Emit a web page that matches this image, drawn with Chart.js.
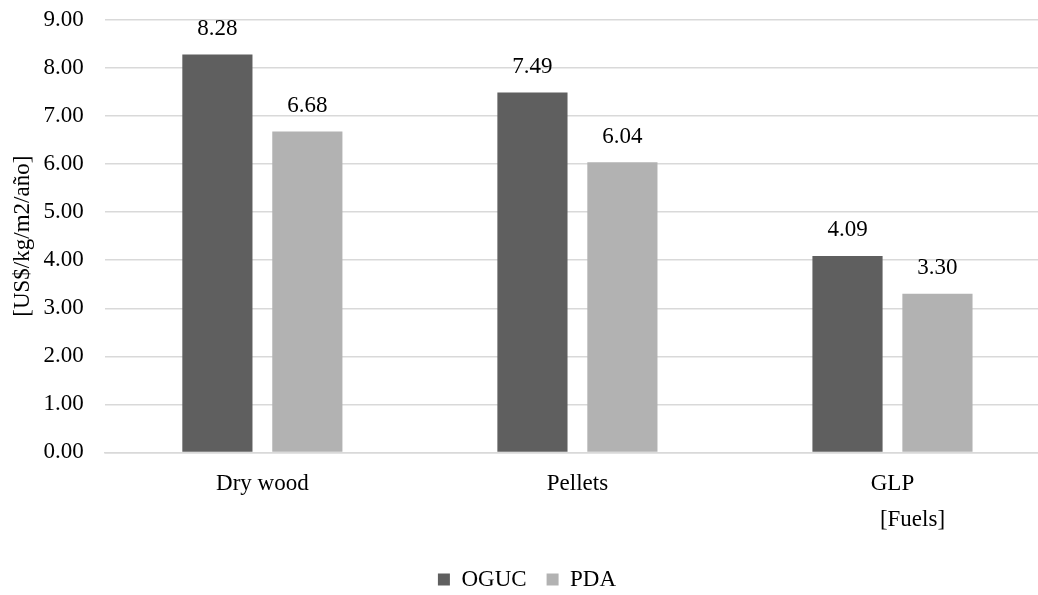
<!DOCTYPE html>
<html>
<head>
<meta charset="utf-8">
<script src="https://cdn.jsdelivr.net/npm/chart.js@4"></script>
<style>
html,body{margin:0;padding:0;background:#fff;overflow:hidden;}
#wrap{width:1050px;height:595px;}
</style>
</head>
<body>
<div id="wrap"><canvas id="c"></canvas></div>
<script>
const categories = ["Dry wood", "Pellets", "GLP"];
const seriesNames = ["OGUC", "PDA"];
const oguc = [8.28, 7.49, 4.09];
const pda = [6.68, 6.04, 3.30];
const yTicks = [0, 1, 2, 3, 4, 5, 6, 7, 8, 9];
const yTitle = "[US$/kg/m2/año]";
const xTitle = "[Fuels]";

const FONT = "'Liberation Serif', 'Times New Roman', serif";
const FS = 23;

const labelPlugin = {
  id: 'labels',
  afterDatasetsDraw(chart) {
    const ctx = chart.ctx;
    ctx.save();
    ctx.font = FS + "px " + FONT;
    ctx.fillStyle = "#000";
    ctx.textAlign = "center";
    ctx.textBaseline = "bottom";
    chart.data.datasets.forEach((ds, i) => {
      chart.getDatasetMeta(i).data.forEach((bar, j) => {
        ctx.fillText(ds.data[j].toFixed(2), bar.x, bar.y - 14);
      });
    });
    // x axis title
    const xs = chart.scales.x;
    const lastX = xs.getPixelForValue(categories.length - 1);
    ctx.textBaseline = "middle";
    ctx.fillText(xTitle, lastX + 20, xs.bottom - 28);
    ctx.restore();
  }
};

new Chart(document.getElementById('c'), {
  type: 'bar',
  data: {
    labels: categories,
    datasets: [
      { label: seriesNames[0], data: oguc, backgroundColor: '#5f5f5f', categoryPercentage: 0.571, barPercentage: 0.78 },
      { label: seriesNames[1], data: pda, backgroundColor: '#b2b2b2', categoryPercentage: 0.571, barPercentage: 0.78 }
    ]
  },
  options: {
    responsive: true,
    maintainAspectRatio: false,
    animation: false,
    devicePixelRatio: 1,
    layout: { padding: { top: 20, right: 0, left: 4, bottom: -6 } },
    plugins: {
      legend: {
        position: 'bottom',
        labels: {
          font: { family: FONT, size: FS },
          color: '#000',
          boxWidth: 12,
          boxHeight: 12,
          padding: 20,
          useBorderRadius: false
        }
      },
      tooltip: { enabled: false }
    },
    scales: {
      x: {
        grid: { display: false, drawTicks: false },
        border: { display: true, color: '#d9d9d9', width: 1.5 },
        ticks: { font: { family: FONT, size: FS }, color: '#000', padding: 18 },
        afterFit(scale) { scale.height += 32; scale.paddingLeft = 0; scale.paddingRight = 0; }
      },
      y: {
        min: 0, max: 9,
        afterBuildTicks(scale) { scale.ticks = yTicks.map(v => ({ value: v })); },
        grid: { color: '#d9d9d9', lineWidth: 1.5, drawTicks: false },
        border: { display: false },
        ticks: {
          font: { family: FONT, size: FS }, color: '#000', padding: 21,
          callback: v => Number(v).toFixed(2)
        },
        title: { display: true, text: yTitle, font: { family: FONT, size: FS }, color: '#000', padding: { top: 5, bottom: 9 } },
        afterFit(scale) { scale.width -= 23; scale.paddingTop = 0; scale.paddingBottom = 0; }
      }
    }
  },
  plugins: [labelPlugin]
});
</script>
</body>
</html>
